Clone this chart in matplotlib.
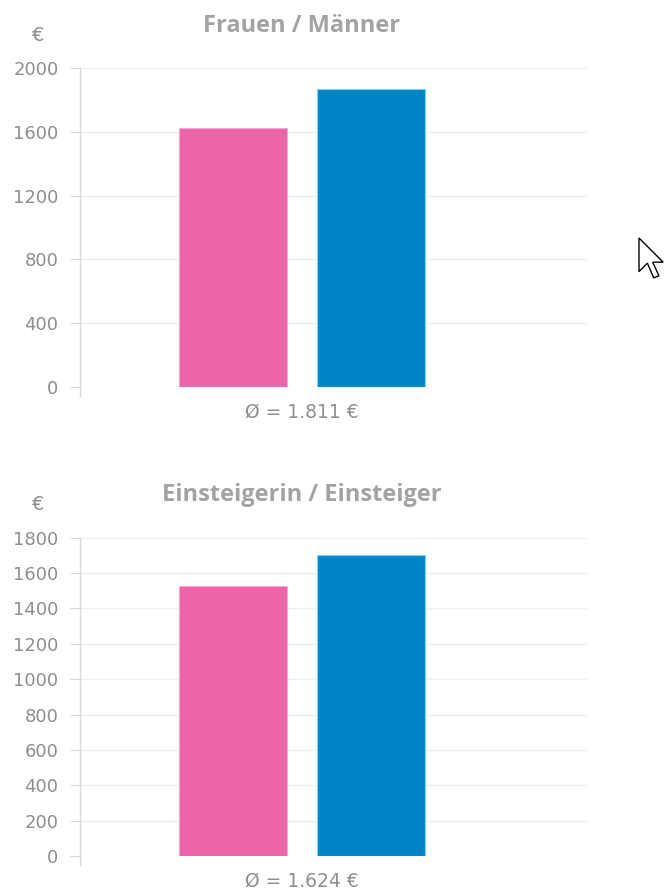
import numpy as np
import matplotlib.pyplot as plt
from matplotlib.patches import Polygon

plt.rcParams.update({
    "font.family": ["DejaVu Sans"],
    "font.size": 12})

W, H = 664, 890

groups = ["Frauen", "Männer"]
titles = ["Frauen / Männer", "Einsteigerin / Einsteiger"]
values_top = [1625, 1870]
values_bottom = [1527, 1700]
averages = ["Ø = 1.811 €", "Ø = 1.624 €"]
ticks_top = [0, 400, 800, 1200, 1600, 2000]
ticks_bottom = [0, 200, 400, 600, 800, 1000, 1200, 1400, 1600, 1800]

bar_colors = ["#ee64a8", "#0084c8"]
edge_colors = ["#f7a8cf", "#7fd4f5"]
grid_col = "#efefef"
axis_col = "#d8d8d8"
text_col = "#8f8f8f"


def px_rect(left, top, right, bottom):
    return [left / W, 1 - bottom / H, (right - left) / W, (bottom - top) / H]


def draw_panel(ax, values, ticks, title, avg):
    x = np.arange(len(values))
    ax.bar(x, values, width=0.783, color=bar_colors, edgecolor=edge_colors,
           linewidth=0.8, zorder=3)
    ax.set_xlim(-1.109, 2.565)
    ax.set_ylim(ticks[0], ticks[-1])
    ax.set_yticks(ticks)
    ax.set_yticklabels([str(t) for t in ticks])
    ax.set_xticks([])
    for s in ax.spines.values():
        s.set_visible(False)
    ax.grid(axis="y", color=grid_col, linewidth=1.0, zorder=0)
    ax.set_axisbelow(True)
    ax.tick_params(axis="y", length=7.5, width=0.8, color=axis_col,
                   labelcolor=text_col, labelsize=13, pad=8)
    # y axis line reaching a bit below zero
    ax.plot([0, 0], [-0.028, 1.0], transform=ax.transAxes, color=axis_col,
            linewidth=1.0, clip_on=False, zorder=4)
    mid = (x[0] + x[-1]) / 2
    ax.text(mid, 1.135, title, transform=ax.get_xaxis_transform(),
            ha="center", va="center", fontsize=17, fontweight="bold",
            family=["Open Sans", "DejaVu Sans"], color="#a3a3a3")
    ax.text(mid, -0.08, avg, transform=ax.get_xaxis_transform(),
            ha="center", va="center", fontsize=13.5, color=text_col)
    ax.text(-0.083, 1.105, "€", transform=ax.transAxes, ha="center",
            va="center", fontsize=14, color=text_col)


fig = plt.figure(figsize=(W / 100, H / 100), dpi=100)

ax1 = fig.add_axes(px_rect(80, 68.5, 587, 386.7))
draw_panel(ax1, values_top, ticks_top, titles[0], averages[0])

ax2 = fig.add_axes(px_rect(80, 537.7, 587, 856))
draw_panel(ax2, values_bottom, ticks_bottom, titles[1], averages[1])

# mouse pointer from the screenshot
cursor = np.array([(0, 0), (0, 16), (4, 12), (7, 19), (9.5, 18), (6.5, 11.5), (11.5, 11.5)])
cursor = cursor * 2.1 + np.array([639, 238])
fig.patches.append(Polygon(np.column_stack([cursor[:, 0] / W, 1 - cursor[:, 1] / H]),
                           closed=True, facecolor="white", edgecolor="black",
                           linewidth=1.0, transform=fig.transFigure, figure=fig))

fig.savefig("out.png", dpi=100)
